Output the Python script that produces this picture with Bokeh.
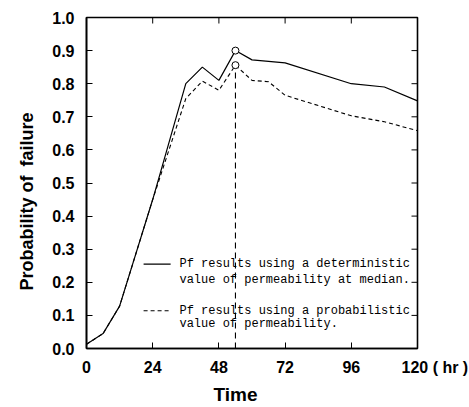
from bokeh.plotting import figure
from bokeh.models import LinearAxis, FixedTicker, Label, Range1d, Title, PrintfTickFormatter
from bokeh.embed import file_html
from bokeh.resources import INLINE

# ---- data ----
time_det = [0, 6, 12, 24, 36, 42, 48, 54, 60, 72, 96, 108, 120]
pf_det = [0.013, 0.045, 0.128, 0.45, 0.80, 0.85, 0.81, 0.90, 0.872, 0.863, 0.80, 0.79, 0.748]

time_prob = [0, 6, 12, 24, 36, 42, 48, 54, 60, 66, 72, 96, 108, 120]
pf_prob = [0.013, 0.045, 0.128, 0.45, 0.755, 0.808, 0.78, 0.856, 0.81, 0.806, 0.765, 0.703, 0.685, 0.658]

peak_time = [54, 54]
peak_pf = [0.90, 0.856]

x_ticks = [0, 24, 48, 72, 96, 120]
y_ticks = [0.0, 0.1, 0.2, 0.3, 0.4, 0.5, 0.6, 0.7, 0.8, 0.9, 1.0]
x_unit = "( hr )"

legend_lines = [
    "Pf results using a deterministic",
    "value of permeability at median.",
    "Pf results using a probabilistic",
    "value of permeability.",
]

BOLD = "Liberation Sans"
MONO = "Liberation Mono"

X0, X1 = 0, 120
Y0, Y1 = 0.0, 1.0

p = figure(width=469, height=407, output_backend="svg", toolbar_location=None,
           x_range=Range1d(X0, X1), y_range=Range1d(Y0, Y1),
           min_border_left=86, min_border_right=52, min_border_top=17, min_border_bottom=57,
           x_axis_location=None, y_axis_location=None)
p.grid.visible = False
p.outline_line_color = "black"
p.outline_line_width = 1.6
p.background_fill_color = "white"
p.border_fill_color = "white"

def style_axis(ax, ticks, standoff):
    ax.ticker = FixedTicker(ticks=ticks)
    ax.axis_line_color = "black"
    ax.axis_line_width = 1.6
    ax.major_tick_in = 6
    ax.major_tick_out = 0
    ax.major_tick_line_color = "black"
    ax.major_tick_line_width = 1
    ax.minor_tick_line_color = None
    ax.major_label_text_font = BOLD
    ax.major_label_text_font_style = "bold"
    ax.major_label_text_font_size = "16px"
    ax.major_label_text_color = "black"
    ax.major_label_standoff = standoff

bottom = LinearAxis()
style_axis(bottom, x_ticks, 10)
# unit after the last tick; figure spaces on the left keep "120" centred on its tick
pad = "\u2007" * 3 + "\u2002"
bottom.major_label_overrides = {x_ticks[-1]: pad + str(x_ticks[-1]) + " " + x_unit}
p.add_layout(bottom, "below")

left = LinearAxis()
style_axis(left, y_ticks, 12)
left.formatter = PrintfTickFormatter(format="%.1f")
p.add_layout(left, "left")

# axis titles
p.add_layout(Title(text="Probability of\u2002failure", align="left", offset=58, standoff=26,
                   text_font=BOLD, text_font_style="bold", text_font_size="18px",
                   text_color="black"), "left")
p.add_layout(Title(text="Time", align="left", offset=127, standoff=6,
                   text_font=BOLD, text_font_style="bold", text_font_size="19px",
                   text_color="black"), "below")

# inward ticks on the top and right frame edges (markers are clipped to the frame)
p.scatter(x_ticks, [Y1] * len(x_ticks), marker="dash", size=12, angle=1.5707963,
          line_color="black", line_width=1)
p.scatter([X1] * len(y_ticks), y_ticks, marker="dash", size=12,
          line_color="black", line_width=1)

# vertical dashed line at the peak
p.line(x=[peak_time[1], peak_time[1]], y=[Y0, peak_pf[1]], line_color="black",
       line_width=1.1, line_dash="6 4")

p.line(time_det, pf_det, line_color="black", line_width=1.2)
p.line(time_prob, pf_prob, line_color="black", line_width=1.1, line_dash="4 3")
p.scatter(peak_time, peak_pf, marker="circle", size=7, fill_color="white",
          line_color="black", line_width=1)

# legend: sample lines and text
seg_x0, seg_x1 = 20.7, 30.5
p.line([seg_x0, seg_x1], [0.255, 0.255], line_color="black", line_width=1.1)
p.line([seg_x0, seg_x1], [0.114, 0.114], line_color="black", line_width=1.1, line_dash="4 3")
for txt, yy in zip(legend_lines, [0.255, 0.207, 0.114, 0.075]):
    p.add_layout(Label(x=33.7, y=yy, text=txt, text_font=MONO, text_font_size="12px",
                       text_color="black", text_align="left", text_baseline="middle"))

open("out.html", "w").write(file_html(p, INLINE))
